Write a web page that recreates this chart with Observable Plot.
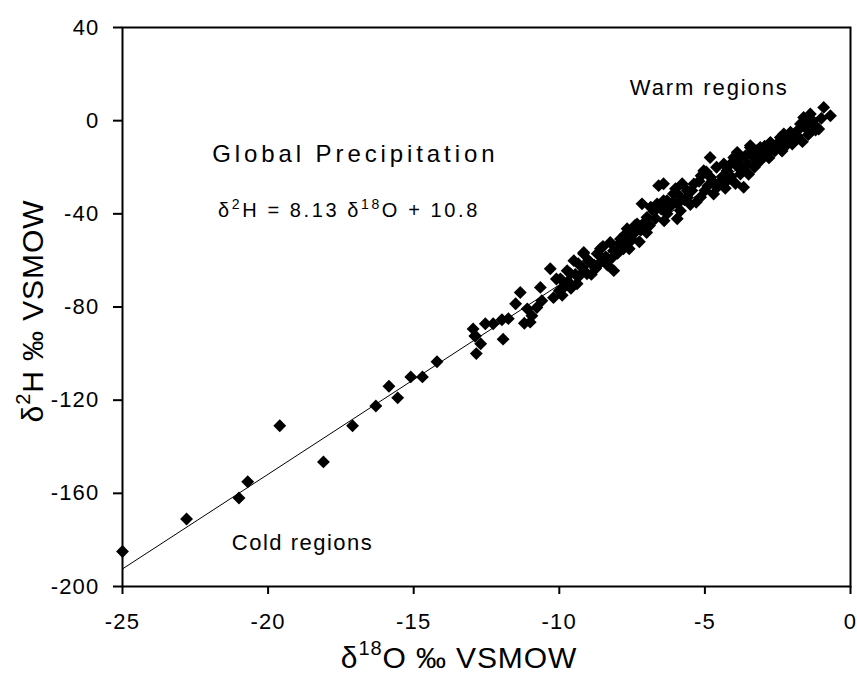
<!DOCTYPE html>
<html>
<head>
<meta charset="utf-8">
<script src="https://cdn.jsdelivr.net/npm/d3@7"></script>
<script src="https://cdn.jsdelivr.net/npm/@observablehq/plot@0.6"></script>
<style>
  body { margin: 0; background: #fff; }
  svg { display: block; }
  svg g[aria-label$="tick label"] text { letter-spacing: 1.2px; }
</style>
</head>
<body>
<div id="chart"></div>
<script>
// δ18O (‰ VSMOW) values of the precipitation samples
const d18O = [
  -25.0, -22.8, -21.0, -20.7, -19.6, -18.1, -17.1, -16.3, -15.85, -15.55, -15.1, -14.7, -14.2, -12.9, -12.85,
  -12.96, -12.88, -12.7, -12.54, -12.27, -11.97, -11.93, -11.75, -11.5, -11.34, -11.2, -11.1, -11.0, -10.94, -10.77,
  -10.65, -10.6, -10.31, -10.2, -10.0, -9.96, -9.8, -9.62, -9.39, -9.35, -9.17, -9.05,
  -9.73, -9.5, -9.16, -8.93, -8.8, -8.7, -8.59, -8.4, -8.25, -8.14, -8.13, -7.9, -7.8, -7.67, -7.67, -7.45, -7.33,
  -7.2, -7.16, -6.99, -6.86, -6.7, -6.64, -6.59, -6.42, -6.3, -6.08, -5.95, -5.78, -5.61,
  -6.42, -6.3, -6.01, -5.95, -5.84, -5.61, -5.5, -5.38, -5.15, -5.13, -5.04, -4.9, -4.82, -4.8, -4.7, -4.58, -4.4,
  -4.35, -4.24, -4.24, -4.01, -3.9, -3.89, -3.78, -3.67, -3.55, -3.44, -3.3, -3.21, -3.1, -2.87, -2.75, -2.6, -2.29,
  -3.44, -3.33, -3.1, -2.87, -2.52, -2.41, -2.2, -2.18, -2.06, -1.9, -1.84, -1.72, -1.61, -1.49, -1.38, -1.28, -1.09,
  -0.92, -0.69,
  -10.1, -9.9, -9.7, -9.6, -9.45, -9.3, -9.2, -9.0, -8.9, -8.75, -8.6, -8.5, -8.35, -8.2, -8.0, -7.95, -7.75, -7.6,
  -7.5, -7.4, -7.25, -7.1, -7.0, -6.9, -6.75, -6.5, -6.4, -6.2, -6.1, -5.9, -5.7, -5.45, -5.3, -5.2, -5.0, -4.95,
  -4.75, -4.6, -4.5, -4.3, -4.15, -4.1, -3.95, -3.85, -3.7, -3.6, -3.5, -3.35, -3.25, -3.0, -2.95, -2.8, -2.7,
  -2.45, -2.35, -2.1, -2.0, -1.8, -1.65, -1.55, -1.45, -1.3, -1.2, -1.0
];
// δ2H (‰ VSMOW) values, same order as d18O
const d2H = [
  -185, -171, -162, -155, -131, -146.5, -131, -122.5, -114, -119, -110, -110, -103.5, -92.5, -100,
  -89.4, -92.4, -95.8, -87.2, -87.2, -85.5, -93.8, -85, -78.6, -73.8, -87, -80.8, -86.5, -83.8, -80.2,
  -71.6, -77.3, -63.6, -76, -73, -67.9, -71, -65.7, -70, -61.4, -57.1, -65.7,
  -64.4, -60.1, -56.6, -60.9, -62, -57.1, -55, -58.5, -52.3, -55.9, -64.4, -50.8, -55, -46.4, -52.8, -48.6, -44.3,
  -47, -35.7, -41.5, -37.2, -42, -35.7, -27.9, -34.4, -40, -31.4, -42.1, -27.1, -30.1,
  -27.1, -34.4, -29.2, -35.7, -38.7, -32.9, -36, -27.2, -32.9, -23.6, -21.5, -28, -15.8, -24.4, -31.5, -28.6, -24,
  -18.6, -21.5, -25.8, -15.8, -19.5, -13.6, -22.9, -28.6, -18.6, -11.5, -20, -12.9, -17.2, -14.2, -9.3, -13, -5.7,
  -10.7, -15.8, -11.5, -14.3, -11.5, -7.2, -10.5, -8.6, -5, -8.7, -6.4, -1.4, 1.4, -0.7, 2.9, -1.3, -3.6,
  5.7, 2.1,
  -68, -75, -69, -72, -66, -66.5, -63, -60, -66, -63.5, -61, -54, -62, -59, -57, -53, -49, -55,
  -51, -45, -52, -44, -48, -45, -39, -38, -43, -37, -35, -32, -34, -30, -35, -26, -30, -22,
  -26, -20, -26.5, -29, -19, -24, -27, -17, -20.5, -15, -23, -13, -17, -14.5, -11, -16, -12,
  -9, -13, -7, -10, -4, -9, -3, -6, 0, -4, 1
];
const xTicks = [-25, -20, -15, -10, -5, 0];
const yTicks = [-200, -160, -120, -80, -40, 0, 40];
// Global Meteoric Water Line: δ2H = 8.13 δ18O + 10.8
const slope = 8.13;
const intercept = 10.8;
const lineEnds = [-25, -1];

const points = d18O.map((x, i) => ({x, y: d2H[i]}));
const fit = lineEnds.map(x => ({x, y: slope * x + intercept}));

const FONT = "'Liberation Sans', Arial, Helvetica, sans-serif";

const plot = Plot.plot({
  width: 857,
  height: 675,
  marginLeft: 122,
  marginRight: 7,
  marginTop: 27,
  marginBottom: 89,
  style: {fontFamily: FONT, fontSize: "22px", color: "#000", background: "#fff", overflow: "visible"},
  x: {domain: [-25, 0]},
  y: {domain: [-200, 40]},
  marks: [
    Plot.axisX({ticks: xTicks, tickSize: 8, tickPadding: 19, strokeWidth: 2, tickFormat: d => String(d), label: null, fontSize: 22}),
    Plot.axisY({ticks: yTicks, tickSize: 9, tickPadding: 14, strokeWidth: 2, tickFormat: d => String(d), label: null, fontSize: 22}),
    Plot.frame({stroke: "#000", strokeWidth: 2}),
    Plot.line(fit, {x: "x", y: "y", stroke: "#000", strokeWidth: 1}),
    Plot.dot(points, {x: "x", y: "y", symbol: "diamond2", r: 5.8, fill: "#000", stroke: "none"})
  ]
});

document.getElementById("chart").appendChild(plot);

const svg = d3.select(plot);
const sx = plot.scale("x");
const sy = plot.scale("y");

function addText(x, y, parts, opts) {
  const t = svg.append("text")
    .attr("x", x).attr("y", y)
    .attr("font-family", FONT)
    .attr("font-size", opts.size)
    .attr("fill", "#000")
    .attr("text-anchor", opts.anchor || "start")
    .style("letter-spacing", (opts.ls || 0) + "px");
  if (opts.transform) t.attr("transform", opts.transform).attr("x", 0).attr("y", 0);
  const shift = Math.round(opts.size * 0.42);
  let sup = false;
  for (const p of parts) {
    const isSup = typeof p === "object";
    const s = t.append("tspan").text(isSup ? p.sup : p);
    if (isSup) s.attr("font-size", Math.round(opts.size * 0.68));
    if (isSup && !sup) { s.attr("dy", -shift); sup = true; }
    else if (!isSup && sup) { s.attr("dy", shift); sup = false; }
  }
  return t;
}

// in-plot annotations
addText(sx.apply(-21.9), sy.apply(-18), ["Global Precipitation"], {size: 24, ls: 3.9});
addText(sx.apply(-21.7), sy.apply(-41.7), ["δ", {sup: "2"}, "H = 8.13 δ", {sup: "18"}, "O + 10.8"], {size: 20, ls: 2.6});
addText(sx.apply(-7.56), sy.apply(10.7), ["Warm regions"], {size: 22, ls: 1.9});
addText(sx.apply(-21.23), sy.apply(-184.7), ["Cold regions"], {size: 22, ls: 1.5});

// axis titles
addText(459, 668, ["δ", {sup: "18"}, "O ‰ VSMOW"], {size: 30, anchor: "middle", ls: 0.9});
addText(0, 0, ["δ", {sup: "2"}, "H ‰ VSMOW"], {size: 30, anchor: "middle", ls: 0.9, transform: "translate(43,311) rotate(-90)"});
</script>
</body>
</html>
